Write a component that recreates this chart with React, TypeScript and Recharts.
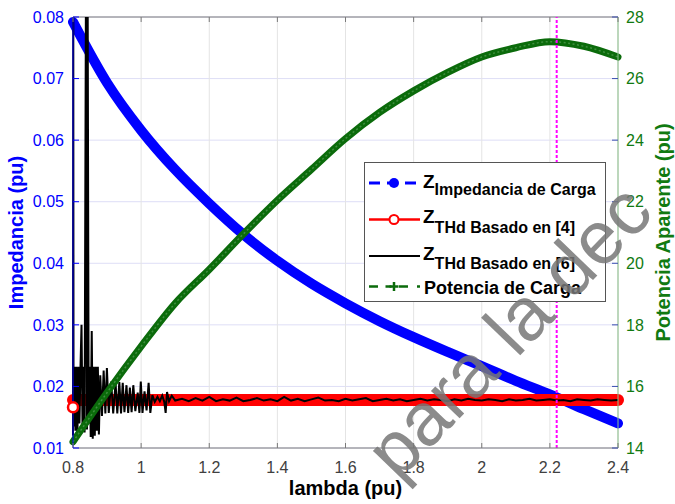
import { LineChart, Line, XAxis, YAxis, CartesianGrid, ReferenceLine } from "recharts"

document.body.style.margin = "0"

// lambda (pu) sample points for the smooth curves
const lambdaGrid = [0.8, 0.9, 1.0, 1.1, 1.2, 1.3, 1.4, 1.5, 1.6, 1.7, 1.8, 1.9, 2.0, 2.1, 2.2, 2.3, 2.4]
const impedanciaCarga = [
  0.0792, 0.0693, 0.0616, 0.0552, 0.0497, 0.0447, 0.0404, 0.0367, 0.0335, 0.0306, 0.028, 0.0256,
  0.0233, 0.0209, 0.0187, 0.0163, 0.014,
]
const thdBasado4 = [
  0.0178, 0.0178, 0.0178, 0.0178, 0.0178, 0.0178, 0.0178, 0.0178, 0.0178, 0.0178, 0.0178, 0.0178,
  0.0178, 0.0178, 0.0178, 0.0178, 0.0178,
]
// first Z_THd [4] sample sits a little lower than the rest
const thdBasado4First = 0.0166
const potenciaCarga = [
  14.2, 15.8, 17.3, 18.7, 19.8, 20.95, 22.05, 23.05, 24.05, 24.9, 25.6, 26.2, 26.7, 27.0, 27.2, 27.05, 26.7,
]

// Z_THd [6]: start-up transient
const thd6Lambda = [
  0.8, 0.8008, 0.8016, 0.804, 0.807, 0.81, 0.813, 0.816, 0.819, 0.822, 0.825, 0.828, 0.831, 0.834,
  0.838, 0.841, 0.843, 0.846, 0.849, 0.852, 0.855, 0.858, 0.861, 0.864, 0.867, 0.87, 0.873, 0.876,
  0.88, 0.885, 0.89, 0.895, 0.8995, 0.905, 0.912, 0.918, 0.925, 0.93, 0.936, 0.941, 0.946, 0.951,
  0.957, 0.962, 0.967, 0.972, 0.977, 0.983, 0.99, 0.995, 0.999, 1.004, 1.01, 1.016, 1.022, 1.027,
  1.033, 1.04, 1.048, 1.055, 1.062, 1.068, 1.072, 1.076, 1.082, 1.09, 1.1,
]
const thd6Z = [
  0.012, 0.085, 0.0135, 0.0232, 0.0128, 0.0232, 0.0122, 0.0232, 0.014, 0.0232, 0.03, 0.013, 0.0232,
  0.0125, 0.085, 0.013, 0.085, 0.014, 0.0232, 0.0118, 0.029, 0.0115, 0.0232, 0.012, 0.0232, 0.0128,
  0.0232, 0.0122, 0.0218, 0.0152, 0.0226, 0.0156, 0.023, 0.0157, 0.0208, 0.0156, 0.0206, 0.0156,
  0.0207, 0.0156, 0.0206, 0.0158, 0.0202, 0.0157, 0.0198, 0.0158, 0.0202, 0.016, 0.019, 0.0157, 0.0208,
  0.0157, 0.0192, 0.0161, 0.0206, 0.0157, 0.0186, 0.0175, 0.0183, 0.0176, 0.0185, 0.0175, 0.0157,
  0.0191, 0.0176, 0.0185, 0.0177,
]
// Z_THd [6]: steady state, every 0.02 pu from 1.12
const thd6TailStart = 1.12
const thd6TailStep = 0.02
const thd6TailZ = [
  0.018, 0.0176, 0.0181, 0.0177, 0.0183, 0.0176, 0.0179, 0.0177, 0.0182, 0.0176, 0.0178, 0.0181,
  0.0177, 0.0179, 0.0176, 0.0183, 0.0177, 0.018, 0.0176, 0.0179, 0.0182, 0.0177, 0.0178, 0.0176,
  0.018, 0.0177, 0.0179, 0.0181, 0.0176, 0.0178, 0.018, 0.0177, 0.0179, 0.0176, 0.0178, 0.018,
  0.0177, 0.0179, 0.0178, 0.0176, 0.0179, 0.0177, 0.018, 0.0178, 0.0177, 0.0179, 0.0178, 0.0176,
  0.0179, 0.0177, 0.0178, 0.018, 0.0177, 0.0178, 0.0179, 0.0177, 0.0178, 0.0176, 0.0179, 0.0178,
  0.0177, 0.0179, 0.0178, 0.0177, 0.0178,
]

const lambdaMax = 2.22
const xTicks = [0.8, 1, 1.2, 1.4, 1.6, 1.8, 2, 2.2, 2.4]
const zTicks = [0.01, 0.02, 0.03, 0.04, 0.05, 0.06, 0.07, 0.08]
const sTicks = [14, 16, 18, 20, 22, 24, 26, 28]

const BLUE = "#0000ff"
const RED = "#ff0000"
const GREEN = "#0b6b0b"
const GREEN_TEXT = "#117a11"
const FRAME = "#7a7a7a"

const W = 675
const H = 504
const PLOT_LEFT = 73
const PLOT_RIGHT = 618
const PLOT_TOP = 17
const PLOT_BOTTOM = 448

const zData = lambdaGrid.map((lambda, i) => ({ lambda, z: impedanciaCarga[i] }))
const thd4Data = lambdaGrid.map((lambda, i) => ({ lambda, z: thdBasado4[i] }))
const thd4FirstData = [{ lambda: lambdaGrid[0], z: thdBasado4First }]
const sData = lambdaGrid.map((lambda, i) => ({ lambda, s: potenciaCarga[i] }))
const thd6Data = [
  ...thd6Lambda.map((lambda, i) => ({ lambda, z: thd6Z[i] })),
  ...thd6TailZ.map((z, i) => ({ lambda: thd6TailStart + i * thd6TailStep, z })),
]

const renderXTick = (props: any) => {
  const { x, y, payload } = props
  return (
    <g>
      <line x1={x} x2={x} y1={PLOT_BOTTOM} y2={PLOT_BOTTOM - 5} stroke={FRAME} />
      <line x1={x} x2={x} y1={PLOT_TOP} y2={PLOT_TOP + 5} stroke={FRAME} />
      <text x={x} y={y} dy="0.71em" textAnchor="middle" fill="#404040" fontSize={16}>
        {String(payload.value)}
      </text>
    </g>
  )
}

const renderZTick = (props: any) => {
  const { x, y, payload } = props
  return (
    <g>
      <line x1={PLOT_LEFT} x2={PLOT_LEFT + 6} y1={y} y2={y} stroke={BLUE} />
      <text x={x} y={y} dy="0.355em" textAnchor="end" fill={BLUE} fontSize={16}>
        {payload.value.toFixed(2)}
      </text>
    </g>
  )
}

const renderSTick = (props: any) => {
  const { x, y, payload } = props
  return (
    <g>
      <line x1={PLOT_RIGHT - 6} x2={PLOT_RIGHT} y1={y} y2={y} stroke="#3a4fb0" />
      <text x={x} y={y} dy="0.355em" textAnchor="start" fill={GREEN_TEXT} fontSize={16}>
        {String(payload.value)}
      </text>
    </g>
  )
}

function LegendBox() {
  const x0 = 369
  const x1 = 420
  const tx = 423
  return (
    <g>
      <rect x={364.5} y={162.5} width={241} height={139} fill="#fff" stroke="#555" />
      <line x1={x0} x2={x1} y1={183} y2={183} stroke={BLUE} strokeWidth={3} strokeDasharray="11 7" />
      <circle cx={394} cy={183} r={5} fill={BLUE} />
      <line x1={x0} x2={x1} y1={219.5} y2={219.5} stroke={RED} strokeWidth={2.5} />
      <circle cx={394} cy={219.5} r={4.5} fill="#fff" stroke={RED} strokeWidth={2} />
      <line x1={x0} x2={x1} y1={256} y2={256} stroke="#000" strokeWidth={2} />
      <line x1={x0} x2={x1} y1={286.5} y2={286.5} stroke={GREEN} strokeWidth={2.5} strokeDasharray="9 7.5 3 0 3 7.5 9" />
      <line x1={389.5} x2={398.5} y1={286.5} y2={286.5} stroke={GREEN} strokeWidth={2.5} />
      <line x1={394} x2={394} y1={282} y2={291} stroke={GREEN} strokeWidth={2.5} />
      <g fontWeight="bold" fill="#000">
        <text x={tx} y={188} fontSize={19}>
          Z<tspan fontSize={16} dy={7}>Impedancia de Carga</tspan>
        </text>
        <text x={tx} y={223} fontSize={19}>
          Z<tspan fontSize={16} dy={10}>THd Basado en [4]</tspan>
        </text>
        <text x={tx} y={259.5} fontSize={19}>
          Z<tspan fontSize={16} dy={9}>THd Basado en [6]</tspan>
        </text>
        <text x={424} y={293.5} fontSize={18}>
          Potencia de Carga
        </text>
      </g>
    </g>
  )
}

export default function App() {
  return (
    <div style={{ position: "relative", width: W, height: H, fontFamily: "'Liberation Sans', Arial, sans-serif" }}>
      <LineChart width={W} height={H} data={zData} margin={{ top: PLOT_TOP, right: 0, bottom: 0, left: 0 }}>
        <CartesianGrid yAxisId="z" vertical={false} stroke="#dedef6" />
        <CartesianGrid yAxisId="z" horizontal={false} stroke="#e4e4e4" />
        <XAxis
          dataKey="lambda"
          type="number"
          domain={[0.8, 2.4]}
          ticks={xTicks}
          height={56}
          tickSize={0}
          tickMargin={14}
          tick={renderXTick}
          axisLine={{ stroke: FRAME }}
          tickLine={false}
          label={{ value: "lambda (pu)", position: "insideBottom", offset: 9, fill: "#000", fontSize: 20, fontWeight: "bold" }}
        />
        <YAxis
          yAxisId="z"
          domain={[0.01, 0.08]}
          ticks={zTicks}
          width={PLOT_LEFT}
          tickSize={0}
          tickMargin={9}
          tick={renderZTick}
          axisLine={{ stroke: BLUE }}
          tickLine={false}
          label={{
            value: "Impedancia (pu)",
            angle: -90,
            position: "insideLeft",
            offset: 16,
            fill: BLUE,
            fontSize: 20,
            fontWeight: "bold",
            style: { textAnchor: "middle" },
          }}
        />
        <YAxis yAxisId="zClip" hide domain={[0.01, 0.08]} allowDataOverflow />
        <YAxis
          yAxisId="s"
          orientation="right"
          domain={[14, 28]}
          ticks={sTicks}
          width={W - PLOT_RIGHT}
          tickSize={0}
          tickMargin={8}
          tick={renderSTick}
          axisLine={{ stroke: "#8dc38d" }}
          tickLine={false}
          label={{
            value: "Potencia Aparente (pu)",
            angle: -90,
            position: "insideRight",
            offset: 12,
            fill: GREEN_TEXT,
            fontSize: 20,
            fontWeight: "bold",
            style: { textAnchor: "middle" },
          }}
        />
        <ReferenceLine yAxisId="z" y={0.08} stroke={FRAME} />
        <Line
          yAxisId="z"
          data={zData}
          dataKey="z"
          type="monotone"
          stroke={BLUE}
          strokeWidth={10}
          strokeLinecap="round"
          dot={false}
          isAnimationActive={false}
        />
        <Line
          yAxisId="z"
          data={thd4Data}
          dataKey="z"
          type="linear"
          stroke={RED}
          strokeWidth={12}
          strokeLinecap="round"
          dot={false}
          isAnimationActive={false}
        />
        <Line
          yAxisId="z"
          data={thd4FirstData}
          dataKey="z"
          stroke="none"
          dot={{ r: 5, fill: "#fff", stroke: RED, strokeWidth: 2.5 }}
          isAnimationActive={false}
        />
        <Line
          yAxisId="zClip"
          data={thd6Data}
          dataKey="z"
          type="linear"
          stroke="#000"
          strokeWidth={2}
          dot={false}
          isAnimationActive={false}
        />
        <Line
          yAxisId="s"
          data={sData}
          dataKey="s"
          type="monotone"
          stroke={GREEN}
          strokeWidth={7}
          strokeLinecap="round"
          dot={false}
          isAnimationActive={false}
        />
        <Line
          yAxisId="s"
          data={sData}
          dataKey="s"
          type="monotone"
          stroke="#3f8f3f"
          strokeWidth={1.5}
          strokeDasharray="2 2.5"
          dot={false}
          isAnimationActive={false}
        />
        <ReferenceLine yAxisId="z" x={lambdaMax} stroke="#ff00ff" strokeWidth={2} strokeDasharray="3 2" />
      </LineChart>
      <svg width={W} height={H} style={{ position: "absolute", left: 0, top: 0, pointerEvents: "none" }}>
        <LegendBox />
        <text transform="translate(398,482) rotate(-46)" fontSize={75} fill="#777" opacity={0.85}>
          para la dec
        </text>
      </svg>
    </div>
  )
}
